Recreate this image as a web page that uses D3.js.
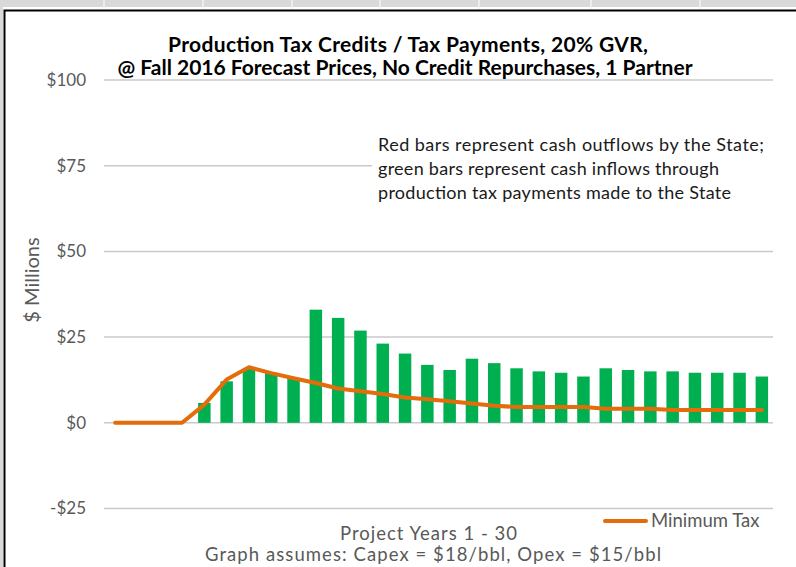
<!DOCTYPE html>
<html>
<head>
<meta charset="utf-8">
<script src="https://cdn.jsdelivr.net/npm/d3@7"></script>
<style>
  body { margin: 0; background: #fff; }
  svg { display: block; }
  text { font-family: Lato, "Open Sans", sans-serif; }
</style>
</head>
<body>
<script>
// datos
var anios = d3.range(1, 31)
var pagosImpuesto = [0, 0, 0, 0, 5.8, 12.1, 15.8, 14.6, 13.0, 33.0,
                     30.6, 26.9, 23.1, 20.2, 16.9, 15.4, 18.7, 17.4, 15.9, 15.0,
                     14.6, 13.5, 15.9, 15.4, 15.0, 15.0, 14.6, 14.6, 14.6, 13.5]
var impuestoMinimo = [0, 0, 0, 0, 5.3, 12.6, 16.2, 14.5, 13.0, 11.6,
                      10.0, 9.2, 8.4, 7.4, 6.9, 6.3, 5.6, 5.0, 4.6, 4.6,
                      4.6, 4.6, 4.1, 4.1, 4.1, 3.7, 3.7, 3.7, 3.7, 3.7]
var ticksY = [-25, 0, 25, 50, 75, 100]
var lineasNota = ["Red bars represent cash outflows by the State;",
                  "green bars represent cash inflows through",
                  "production tax payments made to the State"]
var anchosNota = [386, 341, 353]

var W = 796, H = 567
var svg = d3.select("body").append("svg").attr("width", W).attr("height", H)

// fondo de hoja de calculo
svg.append("rect").attr("x", 0).attr("y", 0).attr("width", W).attr("height", 7).attr("fill", "#d9d9d9")
svg.append("rect").attr("x", 0).attr("y", 0).attr("width", 3).attr("height", H).attr("fill", "#d9d9d9")
;[104, 203, 292, 380, 479, 591, 700].forEach(function(cx) {
    svg.append("line").attr("x1", cx).attr("x2", cx).attr("y1", 0).attr("y2", 9)
       .attr("stroke", "#f2f2f2").attr("stroke-width", 1.5)
})
svg.append("rect").attr("x", 4.5).attr("y", 10.5).attr("width", W + 10).attr("height", H + 10)
   .attr("fill", "#fff").attr("stroke", "#000").attr("stroke-width", 2)

var margin = {left: 104, right: 23, top: 80, bottom: 58.5}
var x = d3.scaleBand()
          .domain(anios)
          .range([margin.left, W - margin.right])
          .paddingInner(0.44)
          .paddingOuter(0.22)
var y = d3.scaleLinear()
          .domain([-25, 100])
          .range([H - margin.bottom, margin.top])

// lineas de cuadricula
svg.append("g")
   .selectAll("line")
   .data(ticksY)
   .enter()
   .append("line")
   .attr("x1", margin.left)
   .attr("x2", W - margin.right)
   .attr("y1", function(d) { return y(d) })
   .attr("y2", function(d) { return y(d) })
   .attr("stroke", "#cacaca")
   .attr("stroke-width", 1.5)

// etiquetas del eje Y
var ejeY = svg.append("g")
   .attr("transform", "translate(" + (margin.left - 18) + ",0)")
   .call(d3.axisLeft(y).tickValues(ticksY).tickSize(0).tickPadding(0)
           .tickFormat(function(d) { return (d < 0 ? "-$" : "$") + Math.abs(d) }))
ejeY.select(".domain").remove()
ejeY.selectAll("text")
    .attr("fill", "#595959")
    .style("font-size", "17px")
    .style("font-family", "Lato, sans-serif")

// barras
svg.append("g")
   .selectAll("rect")
   .data(anios)
   .enter()
   .append("rect")
   .attr("x", function(d) { return x(d) })
   .attr("width", x.bandwidth())
   .attr("y", function(d, i) { return y(Math.max(0, pagosImpuesto[i])) })
   .attr("height", function(d, i) { return Math.abs(y(pagosImpuesto[i]) - y(0)) })
   .attr("fill", function(d, i) { return pagosImpuesto[i] < 0 ? "#c00000" : "#00b050" })

// linea de impuesto minimo
svg.append("path")
   .datum(anios)
   .attr("fill", "none")
   .attr("stroke", "#e46c0a")
   .attr("stroke-width", 4)
   .attr("stroke-linecap", "round")
   .attr("stroke-linejoin", "round")
   .attr("d", d3.line()
                .x(function(d) { return x(d) + x.bandwidth() / 2 })
                .y(function(d, i) { return y(impuestoMinimo[i]) }))

// titulo
var titulo = svg.append("text")
   .attr("text-anchor", "middle")
   .attr("font-weight", "bold")
   .attr("font-size", "21px")
   .attr("fill", "#000")
titulo.append("tspan").attr("x", 408).attr("y", 52)
      .attr("textLength", 480).attr("lengthAdjust", "spacing")
      .text("Production Tax Credits / Tax Payments, 20% GVR,")
titulo.append("tspan").attr("x", 405).attr("y", 75)
      .text("@ Fall 2016 Forecast Prices, No Credit Repurchases, 1 Partner")

// cuadro de nota
svg.append("rect").attr("x", 372).attr("y", 128).attr("width", 404).attr("height", 80).attr("fill", "#fff")
svg.append("g")
   .selectAll("text")
   .data(lineasNota)
   .enter()
   .append("text")
   .attr("x", 378)
   .attr("y", function(d, i) { return 151 + i * 24 })
   .attr("font-size", "18px")
   .attr("fill", "#1a1a1a")
   .attr("textLength", function(d, i) { return anchosNota[i] })
   .attr("lengthAdjust", "spacing")
   .text(function(d) { return d })

// titulos de ejes
svg.append("text")
   .attr("transform", "translate(39,280) rotate(-90)")
   .attr("text-anchor", "middle")
   .attr("font-size", "20px")
   .attr("fill", "#595959")
   .text("$ Millions")
svg.append("text")
   .attr("x", 340).attr("y", 540)
   .attr("font-size", "18.5px")
   .attr("fill", "#595959")
   .attr("textLength", 177).attr("lengthAdjust", "spacing")
   .text("Project Years 1 - 30")
svg.append("text")
   .attr("x", 205).attr("y", 561)
   .attr("font-size", "18.5px")
   .attr("fill", "#595959")
   .attr("textLength", 456).attr("lengthAdjust", "spacing")
   .text("Graph assumes: Capex = $18/bbl, Opex = $15/bbl")

// leyenda
svg.append("line").attr("x1", 605).attr("x2", 646).attr("y1", 521).attr("y2", 521)
   .attr("stroke", "#e46c0a").attr("stroke-width", 4).attr("stroke-linecap", "round")
svg.append("text").attr("x", 651).attr("y", 527)
   .attr("font-size", "18.5px").attr("fill", "#595959")
   .text("Minimum Tax")
</script>
</body>
</html>
